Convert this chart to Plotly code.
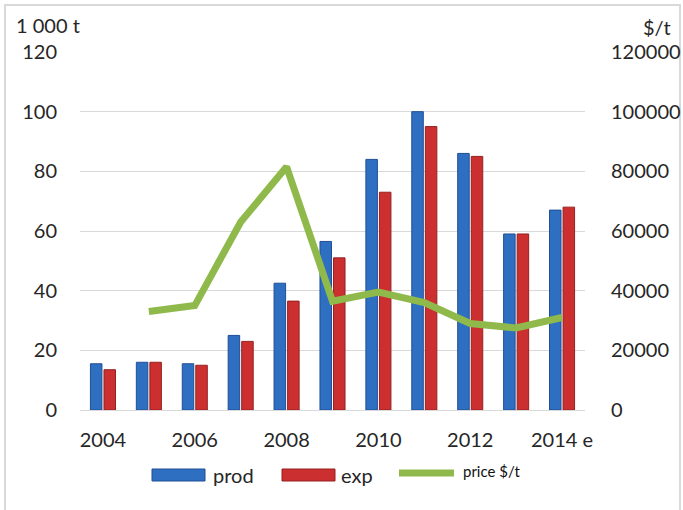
import plotly.graph_objects as go

years = ["2004", "2005", "2006", "2007", "2008", "2009", "2010", "2011", "2012", "2013", "2014 e"]
prod = [15.5, 16, 15.5, 25, 42.5, 56.5, 84, 100, 86, 59, 67]
exp_ = [13.5, 16, 15, 23, 36.5, 51, 73, 95, 85, 59, 68]
price_years = ["2005", "2006", "2007", "2008", "2009", "2010", "2011", "2012", "2013", "2014 e"]
price = [33000, 35000, 63000, 81500, 36500, 39500, 36000, 29000, 27500, 31000]
tick_years = ["2004", "2006", "2008", "2010", "2012", "2014 e"]
left_ticks = [0, 20, 40, 60, 80, 100, 120]
right_ticks = [0, 20000, 40000, 60000, 80000, 100000, 120000]
right_labels = [str(v) for v in right_ticks]

FONT = "Lato, 'Open Sans', sans-serif"
BLUE, BLUE_D = "#2f6fc2", "#1f4f95"
RED, RED_D = "#cc2f2f", "#962020"
GREEN = "#8fba4b"

W, H = 683, 510
L, R, T, B = 80, 98, 52, 100
pw = W - L - R
ph = H - T - B


def px(x):
    return (x - L) / pw


def py(y):
    return (H - B - y) / ph


fig = go.Figure()
fig.add_trace(go.Bar(x=years, y=prod, name="prod",
                     marker=dict(color=BLUE, line=dict(color=BLUE_D, width=1))))
fig.add_trace(go.Bar(x=years, y=exp_, name="exp",
                     marker=dict(color=RED, line=dict(color=RED_D, width=1))))
fig.add_trace(go.Scatter(x=price_years, y=price, name="price $/t",
                         mode="lines", yaxis="y2",
                         line=dict(color=GREEN, width=7)))

fig.update_layout(
    width=W, height=H,
    margin=dict(l=L, r=R, t=T, b=B, autoexpand=False),
    paper_bgcolor="white", plot_bgcolor="white",
    font=dict(family=FONT, size=20, color="#262626"),
    barmode="group", bargap=0.41, bargroupgap=0.15,
    showlegend=False,
    xaxis=dict(type="category", categoryorder="array", categoryarray=years,
               tickmode="array", tickvals=tick_years, ticktext=tick_years,
               showgrid=False, showline=True, linecolor="#d9d9d9", linewidth=1,
               ticks="", tickfont=dict(size=20), ticklabelstandoff=12,
               automargin=False),
    yaxis=dict(range=[0, 120], tickvals=left_ticks, showgrid=True,
               gridcolor="#d9d9d9", gridwidth=1, zeroline=False, showline=False,
               ticks="", ticklabelstandoff=22, automargin=False),
    yaxis2=dict(range=[0, 120000], tickvals=right_ticks, ticktext=right_labels,
                overlaying="y", side="right",
                showgrid=False, zeroline=False, showline=False, ticks="",
                ticklabelstandoff=25, automargin=False),
)

annotations = [
    dict(text="1 000 t", x=px(14), y=py(25), xanchor="left", font=dict(size=20)),
    dict(text="$/t", x=px(673), y=py(27), xanchor="right", font=dict(size=20)),
    dict(text="prod", x=px(211), y=py(475), xanchor="left", font=dict(size=20)),
    dict(text="exp", x=px(339), y=py(475), xanchor="left", font=dict(size=20)),
    dict(text="price $/t", x=px(461), y=py(471), xanchor="left", font=dict(size=15, color="#111")),
]
for a in annotations:
    a.update(xref="paper", yref="paper", showarrow=False, yanchor="middle")
fig.update_layout(annotations=annotations)

shapes = [
    dict(type="rect", x0=px(5), x1=px(680), y0=py(515), y1=py(5),
         line=dict(color="#d9d9d9", width=2), layer="below"),
    dict(type="rect", x0=px(152), x1=px(205), y0=py(481), y1=py(469),
         fillcolor=BLUE, line=dict(color=BLUE_D, width=1)),
    dict(type="rect", x0=px(282), x1=px(335), y0=py(481), y1=py(469),
         fillcolor=RED, line=dict(color=RED_D, width=1)),
    dict(type="line", x0=px(399), x1=px(454), y0=py(473), y1=py(473),
         line=dict(color=GREEN, width=7)),
]
for s in shapes:
    s.update(xref="paper", yref="paper")
fig.update_layout(shapes=shapes)

fig.write_html("out.html")
